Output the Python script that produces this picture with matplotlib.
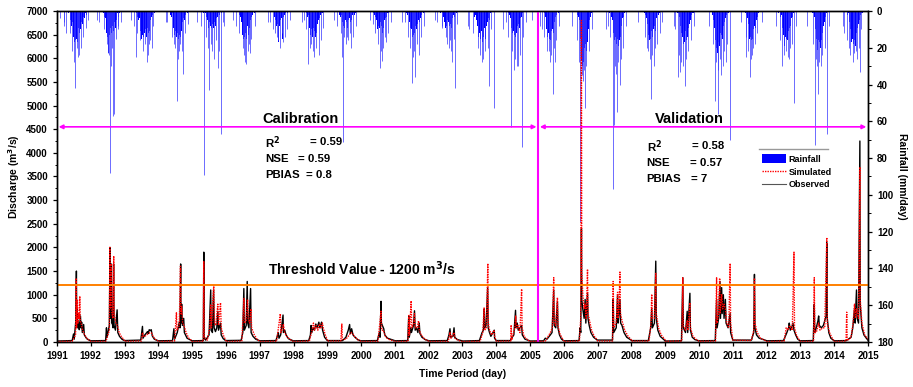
import matplotlib
matplotlib.use('Agg')
import matplotlib.pyplot as plt
from matplotlib.lines import Line2D
from matplotlib.patches import Patch
from matplotlib.ticker import MultipleLocator

plt.rcParams['font.family'] = ['Liberation Sans', 'DejaVu Sans']
plt.rcParams['font.weight'] = 'bold'

# ---------------- data ----------------
years = list(range(1991, 2015))
season_start = 0.33          # fraction of year where weekly rainfall block starts
week = 7 / 365.0

# weekly monsoon rainfall (mm/day), one row per year 1991..2014
rain_weekly_mm = [
    [1,3,0,5,2,8,6,10,14,17,12,16,15,11,17,13,9,12,8,10,6,4,7,3,2,4,1,0,2],
    [0,2,1,3,0,4,7,12,14,10,23,13,14,9,12,14,8,11,7,6,9,3,5,2,1,3,0,1,0],
    [0,1,3,2,5,4,8,11,15,9,13,20,14,12,16,10,14,18,9,12,7,11,5,4,3,2,1,0,1],
    [0,2,0,3,1,5,9,13,15,11,14,16,12,15,10,13,14,9,11,7,6,4,3,5,2,1,0,1,0],
    [1,0,2,1,3,2,5,7,9,6,12,8,9,15,7,9,20,6,8,5,4,3,2,1,0,2,0,0,1],
    [0,1,0,2,1,3,6,10,13,15,11,14,12,9,15,10,8,13,7,9,5,4,3,2,1,0,1,0,0],
    [0,1,0,2,0,3,2,5,8,4,7,17,6,8,5,9,4,15,6,3,8,2,1,3,0,1,0,0,0],
    [0,0,1,2,3,2,6,9,13,14,10,12,14,9,13,11,14,8,12,7,10,5,4,3,2,1,0,1,0],
    [0,2,1,3,2,4,6,8,7,9,5,8,6,9,7,5,8,4,6,3,5,2,3,1,2,0,1,0,0],
    [0,1,0,2,1,3,5,7,10,8,11,9,6,10,8,12,7,9,5,6,4,3,2,1,0,1,0,0,0],
    [1,0,2,1,4,6,9,12,10,14,11,13,9,12,8,11,10,7,9,5,6,3,4,2,1,0,1,0,0],
    [0,1,0,2,1,3,4,6,9,7,8,5,9,6,8,10,7,9,5,4,3,2,3,1,0,1,0,0,0],
    [1,3,2,4,5,8,10,14,17,12,15,16,11,17,13,14,9,12,15,8,10,6,4,3,5,2,1,0,1],
    [0,1,3,2,4,6,9,12,14,11,13,9,14,10,12,8,11,7,9,5,4,3,2,1,0,1,0,0,0],
    [0,0,1,0,2,1,3,6,10,14,16,12,15,13,16,11,14,10,12,8,6,5,3,2,1,0,1,0,0],
    [0,1,0,2,1,3,5,9,15,22,27,30,24,28,20,26,18,22,14,17,10,8,5,3,2,1,0,1,0],
    [0,1,0,2,3,5,8,12,16,21,14,18,20,15,19,13,16,11,14,8,6,4,3,2,1,0,1,0,0],
    [0,0,1,0,2,1,4,7,10,13,16,12,15,11,16,14,10,13,8,11,6,4,3,1,2,0,1,0,0],
    [0,1,2,1,3,5,8,12,16,14,18,13,17,15,11,16,12,14,9,10,7,5,3,2,1,0,1,0,0],
    [0,1,0,2,3,5,9,13,16,20,14,23,17,15,19,12,16,13,10,15,8,11,6,4,3,2,1,0,1],
    [0,0,1,2,1,4,7,11,15,12,14,16,13,15,10,12,8,9,6,5,3,2,1,0,1,0,0,0,0],
    [0,1,0,2,3,2,5,9,13,16,19,14,17,15,12,16,11,13,9,8,6,4,3,2,1,0,1,0,0],
    [0,1,2,1,3,6,10,15,18,21,16,19,17,20,14,16,12,10,8,6,4,3,2,1,0,1,0,0,0],
    [0,0,1,2,1,3,6,10,14,17,19,15,18,13,16,19,14,12,9,11,7,5,3,2,1,0,1,0,0],
]

# single rainy days standing out of the weekly block (decimal year, mm/day)
rain_day_t = [1991.10, 1991.20, 1991.22, 1991.28, 1991.40, 1991.45, 1991.50, 1991.53, 1991.58, 1991.62, 1991.66, 1991.70, 1991.77, 1991.85, 1991.92,
              1992.18, 1992.25, 1992.40, 1992.48, 1992.52, 1992.54, 1992.57, 1992.60, 1992.63, 1992.67, 1992.70, 1992.74, 1992.80, 1992.82, 1992.88,
              1993.20, 1993.28, 1993.33, 1993.38, 1993.45, 1993.55, 1993.60, 1993.65, 1993.68, 1993.72, 1993.76, 1993.80, 1993.85,
              1994.22, 1994.25, 1994.40, 1994.45, 1994.48, 1994.54, 1994.58, 1994.60, 1994.64, 1994.70, 1994.74, 1994.80, 1994.88,
              1995.15, 1995.25, 1995.35, 1995.42, 1995.47, 1995.50, 1995.55, 1995.60, 1995.65, 1995.70, 1995.77, 1995.80, 1995.84, 1995.90, 1995.95,
              1996.20, 1996.30, 1996.40, 1996.50, 1996.53, 1996.56, 1996.60, 1996.64, 1996.67, 1996.70, 1996.75, 1996.85,
              1997.25, 1997.30, 1997.40, 1997.45, 1997.50, 1997.55, 1997.60, 1997.65, 1997.70, 1997.75, 1997.80, 1997.90,
              1998.25, 1998.30, 1998.38, 1998.44, 1998.48, 1998.53, 1998.58, 1998.62, 1998.68, 1998.75, 1998.80, 1998.86,
              1999.20, 1999.30, 1999.40, 1999.44, 1999.47, 1999.50, 1999.55, 1999.58, 1999.62, 1999.66, 1999.70, 1999.75, 1999.85,
              2000.25, 2000.35, 2000.42, 2000.50, 2000.55, 2000.58, 2000.62, 2000.66, 2000.70, 2000.75, 2000.80, 2000.88,
              2001.22, 2001.30, 2001.40, 2001.45, 2001.51, 2001.53, 2001.56, 2001.60, 2001.64, 2001.70, 2001.78, 2001.86,
              2002.20, 2002.25, 2002.38, 2002.40, 2002.50, 2002.55, 2002.60, 2002.63, 2002.67, 2002.70, 2002.74, 2002.78, 2002.85,
              2003.15, 2003.20, 2003.30, 2003.45, 2003.52, 2003.57, 2003.60, 2003.68, 2003.75, 2003.79, 2003.85, 2003.94,
              2004.20, 2004.30, 2004.36, 2004.43, 2004.47, 2004.52, 2004.56, 2004.60, 2004.65, 2004.70, 2004.75, 2004.80, 2004.88,
              2005.05, 2005.30, 2005.35, 2005.40, 2005.50, 2005.55, 2005.58, 2005.63, 2005.68, 2005.72, 2005.74, 2005.78, 2005.86,
              2006.25, 2006.40, 2006.46, 2006.49, 2006.54, 2006.58, 2006.60, 2006.62, 2006.66, 2006.74, 2006.82,
              2007.25, 2007.30, 2007.38, 2007.46, 2007.48, 2007.50, 2007.53, 2007.58, 2007.61, 2007.65, 2007.68, 2007.75, 2007.85,
              2008.20, 2008.40, 2008.45, 2008.50, 2008.54, 2008.57, 2008.62, 2008.66, 2008.70, 2008.75, 2008.85, 2008.90,
              2009.25, 2009.30, 2009.37, 2009.40, 2009.45, 2009.48, 2009.53, 2009.58, 2009.62, 2009.68, 2009.76, 2009.86,
              2010.30, 2010.42, 2010.47, 2010.50, 2010.55, 2010.57, 2010.62, 2010.65, 2010.70, 2010.75, 2010.80, 2010.84, 2010.92,
              2011.25, 2011.38, 2011.40, 2011.45, 2011.50, 2011.54, 2011.58, 2011.60, 2011.66, 2011.72, 2011.85,
              2012.28, 2012.40, 2012.45, 2012.50, 2012.56, 2012.62, 2012.66, 2012.70, 2012.75, 2012.80, 2012.86,
              2013.20, 2013.36, 2013.43, 2013.46, 2013.50, 2013.52, 2013.56, 2013.60, 2013.65, 2013.72, 2013.78, 2013.84,
              2014.25, 2014.30, 2014.38, 2014.45, 2014.48, 2014.55, 2014.60, 2014.64, 2014.68, 2014.72, 2014.76, 2014.80]
rain_day_mm = [4, 6, 8, 12, 12, 22, 28, 42, 20, 25, 24, 20, 14, 9, 5,
               5, 6, 10, 18, 23, 24, 88, 30, 20, 57, 56, 15, 8, 10, 6,
               5, 8, 25, 12, 16, 22, 18, 28, 24, 18, 16, 20, 8,
               6, 6, 14, 18, 20, 49, 26, 22, 18, 22, 34, 12, 7,
               6, 8, 89, 14, 20, 43, 18, 22, 26, 16, 31, 22, 67, 6, 8,
               5, 8, 12, 20, 24, 28, 29, 22, 18, 23, 15, 8,
               6, 6, 10, 12, 14, 16, 20, 12, 17, 14, 10, 5,
               6, 5, 10, 29, 20, 18, 22, 25, 20, 24, 16, 9,
               5, 8, 12, 25, 71, 14, 18, 14, 16, 12, 20, 14, 8,
               5, 7, 12, 18, 31, 22, 27, 20, 14, 17, 12, 6,
               6, 6, 14, 20, 39, 25, 22, 36, 18, 24, 14, 8,
               5, 6, 9, 8, 14, 18, 20, 16, 22, 28, 15, 42, 7,
               8, 10, 12, 20, 24, 28, 26, 22, 20, 41, 10, 53,
               10, 6, 14, 63, 22, 32, 26, 30, 30, 24, 74, 14, 6,
               5, 8, 10, 14, 22, 22, 28, 24, 45, 20, 28, 16, 8,
               8, 16, 28, 115, 35, 38, 32, 53, 30, 22, 10,
               10, 8, 14, 97, 62, 30, 34, 55, 28, 40, 26, 20, 8,
               6, 14, 20, 22, 26, 48, 24, 30, 20, 18, 12, 6,
               8, 10, 36, 24, 33, 28, 30, 41, 26, 22, 16, 8,
               8, 18, 49, 28, 32, 56, 26, 35, 30, 22, 28, 18, 70,
               6, 25, 14, 22, 36, 26, 24, 20, 18, 12, 6,
               8, 16, 30, 24, 22, 25, 26, 20, 18, 50, 8,
               8, 18, 73, 26, 30, 45, 28, 30, 24, 20, 67, 8,
               8, 12, 16, 20, 24, 28, 23, 22, 26, 20, 33, 10]

# observed discharge key points (decimal year, m3/s)
obs_pts = [
    (1991.00,20),(1991.45,30),(1991.49,170),(1991.51,60),(1991.555,420),(1991.575,1500),(1991.585,380),(1991.60,680),(1991.615,300),(1991.64,420),(1991.66,260),(1991.695,550),(1991.71,300),(1991.73,420),(1991.75,200),(1991.79,370),(1991.81,150),(1991.88,70),(1991.99,30),
    (1992.00,25),(1992.44,30),(1992.465,300),(1992.48,100),(1992.55,350),(1992.57,2000),(1992.58,500),(1992.605,1650),(1992.62,400),(1992.64,380),(1992.66,300),(1992.675,1650),(1992.69,350),(1992.73,250),(1992.78,680),(1992.80,200),(1992.85,120),(1992.92,60),(1992.99,30),
    (1993.00,30),(1993.48,40),(1993.53,330),(1993.545,80),(1993.60,150),(1993.68,220),(1993.70,180),(1993.73,260),(1993.76,240),(1993.79,260),(1993.82,130),(1993.88,60),(1993.99,30),
    (1994.00,25),(1994.42,30),(1994.46,280),(1994.48,60),(1994.56,200),(1994.62,420),(1994.64,300),(1994.66,1650),(1994.67,400),(1994.69,800),(1994.71,350),(1994.75,500),(1994.77,200),(1994.85,80),(1994.99,30),
    (1995.00,25),(1995.33,30),(1995.345,1900),(1995.355,80),(1995.40,40),(1995.50,150),(1995.55,1100),(1995.56,250),(1995.60,200),(1995.635,1100),(1995.65,300),(1995.69,220),(1995.73,300),(1995.76,650),(1995.78,250),(1995.84,400),(1995.86,150),(1995.92,70),(1995.99,30),
    (1996.00,30),(1996.45,35),(1996.50,200),(1996.53,1130),(1996.545,250),(1996.60,350),(1996.63,1280),(1996.645,400),(1996.68,300),(1996.73,1130),(1996.745,200),(1996.80,120),(1996.88,60),(1996.99,30),
    (1997.00,25),(1997.48,30),(1997.55,200),(1997.57,80),(1997.62,150),(1997.69,570),(1997.70,200),(1997.74,250),(1997.78,150),(1997.85,70),(1997.99,25),
    (1998.00,25),(1998.45,30),(1998.50,150),(1998.52,350),(1998.54,200),(1998.58,300),(1998.62,250),(1998.66,380),(1998.70,300),(1998.75,420),(1998.78,300),(1998.83,420),(1998.86,250),(1998.92,100),(1998.99,40),
    (1999.00,30),(1999.45,30),(1999.55,100),(1999.62,250),(1999.66,370),(1999.68,180),(1999.72,280),(1999.76,150),(1999.82,100),(1999.90,50),(1999.99,25),
    (2000.00,25),(2000.48,30),(2000.54,200),(2000.56,100),(2000.59,860),(2000.60,400),(2000.63,350),(2000.67,280),(2000.70,150),(2000.78,80),(2000.99,30),
    (2001.00,25),(2001.38,30),(2001.41,550),(2001.425,100),(2001.47,300),(2001.49,200),(2001.55,350),(2001.58,660),(2001.60,250),(2001.64,300),(2001.68,200),(2001.72,400),(2001.74,180),(2001.80,100),(2001.90,50),(2001.99,30),
    (2002.00,25),(2002.55,30),(2002.60,150),(2002.63,280),(2002.65,100),(2002.72,120),(2002.75,300),(2002.77,100),(2002.85,50),(2002.99,25),
    (2003.00,20),(2003.50,30),(2003.58,200),(2003.62,250),(2003.645,700),(2003.66,300),(2003.70,350),(2003.745,1150),(2003.76,300),(2003.80,200),(2003.84,120),(2003.94,250),(2003.95,80),(2003.99,40),
    (2004.00,30),(2004.42,30),(2004.45,80),(2004.52,150),(2004.57,670),(2004.585,300),(2004.62,400),(2004.65,250),(2004.75,350),(2004.77,150),(2004.85,60),(2004.99,25),
    (2005.00,20),(2005.40,25),(2005.45,80),(2005.50,60),(2005.60,150),(2005.65,200),(2005.70,1100),(2005.715,350),(2005.76,300),(2005.81,850),(2005.825,300),(2005.87,150),(2005.93,60),(2005.99,30),
    (2006.00,25),(2006.45,30),(2006.48,300),(2006.50,200),(2006.52,2400),(2006.53,900),(2006.56,700),(2006.60,500),(2006.63,900),(2006.65,400),(2006.70,1030),(2006.715,500),(2006.75,350),(2006.80,200),(2006.88,100),(2006.99,40),
    (2007.00,40),(2007.44,40),(2007.46,900),(2007.475,200),(2007.55,300),(2007.59,1000),(2007.605,400),(2007.63,600),(2007.66,900),(2007.68,400),(2007.72,350),(2007.78,200),(2007.86,100),(2007.99,40),
    (2008.00,30),(2008.50,30),(2008.57,300),(2008.60,700),(2008.62,300),(2008.68,400),(2008.72,1710),(2008.735,500),(2008.78,250),(2008.85,120),(2008.99,30),
    (2009.00,20),(2009.48,25),(2009.52,1360),(2009.535,300),(2009.60,200),(2009.65,650),(2009.665,200),(2009.73,1030),(2009.745,250),(2009.80,100),(2009.88,50),(2009.99,25),
    (2010.00,25),(2010.48,30),(2010.52,900),(2010.535,300),(2010.58,500),(2010.62,1280),(2010.635,500),(2010.67,1150),(2010.685,600),(2010.72,1000),(2010.74,500),(2010.78,900),(2010.80,400),(2010.86,300),(2010.92,600),(2010.935,200),(2010.99,60),
    (2011.00,40),(2011.55,40),(2011.62,200),(2011.64,1430),(2011.655,300),(2011.70,150),(2011.78,80),(2011.99,30),
    (2012.00,25),(2012.50,30),(2012.60,200),(2012.65,300),(2012.67,400),(2012.70,250),(2012.74,300),(2012.78,400),(2012.81,250),(2012.86,150),(2012.92,60),(2012.99,25),
    (2013.00,25),(2013.38,30),(2013.41,800),(2013.425,200),(2013.47,300),(2013.52,450),(2013.54,550),(2013.56,350),(2013.62,300),(2013.68,350),(2013.72,450),(2013.76,550),(2013.78,2100),(2013.795,500),(2013.84,200),(2013.90,80),(2013.99,30),
    (2014.00,25),(2014.36,30),(2014.50,100),(2014.55,300),(2014.60,700),(2014.62,400),(2014.66,1100),(2014.68,500),(2014.72,400),(2014.76,4250),(2014.77,800),(2014.82,300),(2014.88,150),(2014.95,80),(2014.999,40),
]

# simulated discharge key points (decimal year, m3/s)
sim_pts = [
    (1991.00,10),(1991.45,15),(1991.55,150),(1991.57,1350),(1991.58,300),(1991.605,900),(1991.62,400),(1991.64,600),(1991.66,500),(1991.675,970),(1991.69,450),(1991.72,380),(1991.76,250),(1991.82,150),(1991.90,60),(1991.99,20),
    (1992.00,10),(1992.45,15),(1992.55,250),(1992.565,2000),(1992.58,700),(1992.61,1650),(1992.625,600),(1992.66,500),(1992.68,1820),(1992.695,600),(1992.74,400),(1992.79,350),(1992.84,200),(1992.90,120),(1992.99,40),
    (1993.00,15),(1993.50,20),(1993.53,200),(1993.56,120),(1993.62,130),(1993.70,180),(1993.76,200),(1993.80,190),(1993.85,110),(1993.92,50),(1993.99,20),
    (1994.00,10),(1994.48,20),(1994.535,620),(1994.55,250),(1994.62,350),(1994.655,1600),(1994.67,600),(1994.69,750),(1994.72,400),(1994.76,350),(1994.82,200),(1994.90,80),(1994.99,25),
    (1995.00,10),(1995.33,15),(1995.345,1700),(1995.36,100),(1995.45,40),(1995.52,300),(1995.55,800),(1995.57,300),(1995.64,1200),(1995.66,400),(1995.70,350),(1995.76,800),(1995.78,350),(1995.84,830),(1995.86,300),(1995.92,150),(1995.99,40),
    (1996.00,10),(1996.47,20),(1996.535,920),(1996.55,400),(1996.60,450),(1996.64,900),(1996.66,500),(1996.70,400),(1996.74,700),(1996.76,300),(1996.84,150),(1996.92,60),(1996.99,20),
    (1997.00,10),(1997.50,15),(1997.61,600),(1997.625,200),(1997.68,300),(1997.70,380),(1997.74,200),(1997.80,120),(1997.90,50),(1997.99,15),
    (1998.00,10),(1998.47,20),(1998.55,250),(1998.59,400),(1998.62,250),(1998.67,350),(1998.72,250),(1998.77,380),(1998.81,300),(1998.855,400),(1998.88,300),(1998.94,150),(1998.99,60),
    (1999.00,20),(1999.40,20),(1999.43,380),(1999.445,50),(1999.55,60),(1999.65,150),(1999.70,200),(1999.75,180),(1999.80,120),(1999.90,50),(1999.99,15),
    (2000.00,10),(2000.50,15),(2000.59,650),(2000.61,250),(2000.66,250),(2000.72,120),(2000.80,60),(2000.99,15),
    (2001.00,10),(2001.39,15),(2001.41,560),(2001.43,150),(2001.48,870),(2001.50,300),(2001.56,400),(2001.58,600),(2001.60,300),(2001.66,300),(2001.70,450),(2001.72,250),(2001.78,150),(2001.88,60),(2001.99,20),
    (2002.00,10),(2002.58,15),(2002.63,200),(2002.66,80),(2002.75,200),(2002.78,80),(2002.88,30),(2002.99,10),
    (2003.00,10),(2003.52,15),(2003.60,200),(2003.64,720),(2003.655,250),(2003.71,300),(2003.75,1660),(2003.765,400),(2003.80,250),(2003.86,150),(2003.94,250),(2003.955,100),(2003.99,40),
    (2004.00,15),(2004.43,20),(2004.44,360),(2004.455,40),(2004.55,300),(2004.575,550),(2004.60,300),(2004.64,350),(2004.70,200),(2004.75,1120),(2004.765,300),(2004.82,120),(2004.92,50),(2004.99,15),
    (2005.00,10),(2005.45,15),(2005.60,200),(2005.66,300),(2005.70,1360),(2005.715,400),(2005.76,350),(2005.81,940),(2005.825,350),(2005.88,180),(2005.95,80),(2005.99,30),
    (2006.00,10),(2006.46,20),(2006.50,500),(2006.52,6800),(2006.53,1500),(2006.56,1000),(2006.60,700),(2006.63,800),(2006.66,500),(2006.70,1540),(2006.715,600),(2006.76,450),(2006.82,250),(2006.90,120),(2006.99,40),
    (2007.00,20),(2007.44,20),(2007.46,1280),(2007.475,300),(2007.55,400),(2007.59,1050),(2007.605,500),(2007.63,700),(2007.66,1480),(2007.675,600),(2007.72,450),(2007.80,250),(2007.90,120),(2007.99,50),
    (2008.00,20),(2008.52,20),(2008.58,400),(2008.60,1010),(2008.62,500),(2008.68,500),(2008.72,1450),(2008.735,600),(2008.80,300),(2008.88,150),(2008.99,50),
    (2009.00,15),(2009.49,20),(2009.52,1360),(2009.535,350),(2009.60,250),(2009.65,450),(2009.67,250),(2009.73,830),(2009.745,300),(2009.82,120),(2009.92,50),(2009.99,20),
    (2010.00,15),(2010.49,20),(2010.52,1360),(2010.535,400),(2010.58,600),(2010.61,1350),(2010.625,600),(2010.67,1000),(2010.70,700),(2010.74,800),(2010.78,700),(2010.82,400),(2010.88,300),(2010.92,1660),(2010.935,400),(2010.99,100),
    (2011.00,40),(2011.55,30),(2011.62,250),(2011.64,1350),(2011.655,400),(2011.72,200),(2011.82,80),(2011.99,20),
    (2012.00,10),(2012.52,20),(2012.58,300),(2012.63,250),(2012.68,350),(2012.72,300),(2012.76,250),(2012.81,1900),(2012.825,300),(2012.88,150),(2012.95,60),(2012.99,20),
    (2013.00,10),(2013.39,15),(2013.41,1360),(2013.425,200),(2013.47,200),(2013.54,400),(2013.58,250),(2013.66,300),(2013.72,300),(2013.78,2210),(2013.795,400),(2013.86,200),(2013.94,80),(2013.99,30),
    (2014.00,10),(2014.35,20),(2014.37,630),(2014.385,30),(2014.50,100),(2014.56,400),(2014.60,800),(2014.63,500),(2014.66,700),(2014.72,500),(2014.76,3700),(2014.77,900),(2014.82,400),(2014.90,150),(2014.999,60),
]

split_year = 2005.24
threshold = 1200
arrow_level = 4550
cal_stats = ["0.59", "0.59", "0.8"]
val_stats = ["0.58", "0.57", "7"]
year_ticks = list(range(1991, 2016))

# ---------------- figure ----------------
fig = plt.figure(figsize=(9.13, 3.87), dpi=100)
ax = fig.add_axes([0.0624, 0.1163, 0.8883, 0.8553])
ax2 = ax.twinx()
ax.set_zorder(2)
ax.patch.set_visible(False)

# rainfall (inverted, right axis)
for yr, row in zip(years, rain_weekly_mm):
    xs = [yr + season_start + i * week for i in range(len(row))]
    ax2.bar(xs, row, width=week, color='#0000ff', linewidth=0, align='edge')
ax2.vlines(rain_day_t, 0, rain_day_mm, color='#3a3aff', lw=0.65, alpha=0.8)
ax2.set_ylim(180, 0)
ax2.set_yticks(range(0, 181, 20))
ax2.yaxis.set_minor_locator(MultipleLocator(10))
ax2.set_ylabel('Rainfall (mm/day)', fontsize=7.5, fontweight='bold', rotation=270, labelpad=10)

# discharge
ot, oq = zip(*obs_pts)
st, sq = zip(*sim_pts)
ax.plot(ot, oq, color='black', lw=1.0)
ax.plot(st, sq, color='#ff0000', lw=1.0, linestyle=(0, (1, 0.8)))

ax.axhline(threshold, color='#ff8000', lw=1.4)
ax.axvline(split_year, color='#ff00ff', lw=1.5)
arr = dict(arrowstyle='<|-|>', color='#ff00ff', lw=1.2, mutation_scale=6, shrinkA=0, shrinkB=0)
ax.annotate('', xy=(1991.05, arrow_level), xytext=(split_year - 0.05, arrow_level), arrowprops=arr)
ax.annotate('', xy=(split_year + 0.05, arrow_level), xytext=(2014.95, arrow_level), arrowprops=arr)

ax.text(1997.25, 1540, 'Threshold Value - 1200 m$^\\mathbf{3}$/s', fontsize=10, fontweight='bold', va='center')
ax.text(1998.2, 4720, 'Calibration', fontsize=10.5, fontweight='bold', ha='center', va='center')
ax.text(2009.72, 4720, 'Validation', fontsize=10.5, fontweight='bold', ha='center', va='center')

labels = ['R$^\\mathbf{2}$', 'NSE', 'PBIAS']
cal_y = [4220, 3860, 3530]
cal_eq_x = [1998.48, 1998.12, 1998.36]
val_y = [4140, 3790, 3450]
val_eq_x = [2009.79, 2009.73, 2009.76]
for lab, v, yv, xe in zip(labels, cal_stats, cal_y, cal_eq_x):
    ax.text(1997.15, yv, lab, fontsize=8.2, fontweight='bold', va='center')
    ax.text(xe, yv, '= ' + v, fontsize=8.2, fontweight='bold', va='center')
for lab, v, yv, xe in zip(labels, val_stats, val_y, val_eq_x):
    ax.text(2008.45, yv, lab, fontsize=8.2, fontweight='bold', va='center')
    ax.text(xe, yv, '= ' + v, fontsize=8.2, fontweight='bold', va='center')

handles = [Patch(facecolor='#0000ff', edgecolor='none'),
           Line2D([], [], color='#ff0000', lw=1, linestyle=(0, (1, 0.8))),
           Line2D([], [], color='#555555', lw=0.8)]
leg = ax.legend(handles, ['Rainfall', 'Simulated', 'Observed'], loc='upper left',
                bbox_to_anchor=(0.865, 0.578), frameon=False, fontsize=6.5,
                handlelength=2.6, handleheight=1.1, handletextpad=0.3, labelspacing=0.38,
                borderaxespad=0)
# thin grey rule above the legend
ax.plot([0.8655, 0.951], [0.583, 0.583], transform=ax.transAxes, color='#999999', lw=1.0, clip_on=False)

ax.set_xlim(1991, 2015)
ax.set_ylim(0, 7000)
ax.set_xticks(year_ticks)
ax.set_yticks(range(0, 7001, 500))
ax.yaxis.set_minor_locator(MultipleLocator(250))
ax.set_ylabel('Discharge (m$^\\mathbf{3}$/s)', fontsize=7.5, fontweight='bold', labelpad=3)
ax.set_xlabel('Time Period (day)', fontsize=7.5, fontweight='bold', labelpad=6)

for a in (ax, ax2):
    a.tick_params(which='major', direction='out', length=3, width=0.9, labelsize=7)
    a.tick_params(which='minor', direction='out', length=1.8, width=0.7)
    for sp in a.spines.values():
        sp.set_linewidth(1.0)
for lab in ax.get_xticklabels() + ax.get_yticklabels() + ax2.get_yticklabels():
    lab.set_fontweight('bold')
ax.tick_params(axis='x', which='minor', bottom=False)

fig.savefig('out.png', dpi=100)
